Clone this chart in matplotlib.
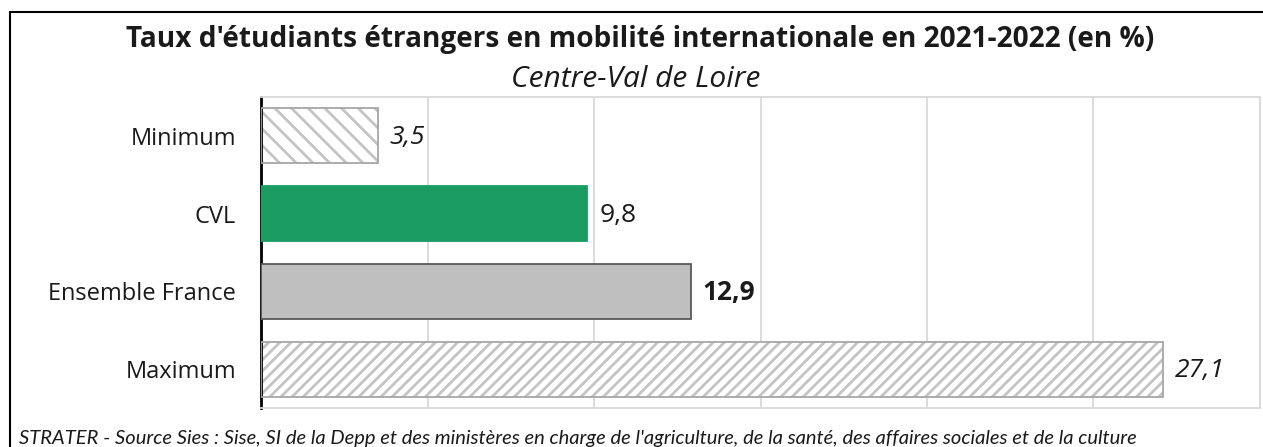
import matplotlib.pyplot as plt
from matplotlib.patches import Rectangle

# data
categories = ['Minimum', 'CVL', 'Ensemble France', 'Maximum']
values = [3.5, 9.8, 12.9, 27.1]
value_labels = ['3,5', '9,8', '12,9', '27,1']

title = "Taux d'étudiants étrangers en mobilité internationale en 2021-2022 (en %)"
subtitle = 'Centre-Val de Loire'
source = ("STRATER - Source Sies : Sise, SI de la Depp et des ministères en charge de "
          "l'agriculture, de la santé, des affaires sociales et de la culture")

plt.rcParams['font.family'] = ['Open Sans', 'DejaVu Sans']
plt.rcParams['hatch.linewidth'] = 2.0

fig = plt.figure(figsize=(12.63, 4.47), dpi=100)
ax = fig.add_axes([0.2067, 0.0872, 0.7909, 0.6958])

# bar styles
faces = ['white', '#1a9b62', '#bfbfbf', 'white']
edges = ['#a6a6a6', '#1a9b62', '#595959', '#a6a6a6']
hatches = ['\\\\', None, None, '///']
label_style = ['italic', 'normal', 'normal', 'italic']
label_weight = ['normal', 'normal', 'bold', 'normal']

ypos = range(len(categories))
for i in ypos:
    if hatches[i]:
        ax.barh(i, values[i], height=0.71, color='white', edgecolor='#c4c4c4',
                hatch=hatches[i], linewidth=0, zorder=2)
        ax.barh(i, values[i], height=0.71, fill=False, edgecolor=edges[i],
                linewidth=1.3, zorder=3)
    else:
        ax.barh(i, values[i], height=0.71, color=faces[i], edgecolor=edges[i],
                linewidth=1.3, zorder=3)
    ax.annotate(value_labels[i], (values[i], i), xytext=(8.5, -1),
                textcoords='offset points', va='center', ha='left',
                fontsize=19, style=label_style[i], weight=label_weight[i],
                color='#1a1a1a')

ax.set_xlim(0, 30)
ax.set_ylim(3.5, -0.5)
ax.set_xticks([0, 5, 10, 15, 20, 25, 30])
ax.set_xticklabels([])
ax.set_yticks(list(ypos))
ax.set_yticklabels(categories, fontsize=17, color='#1a1a1a')
ax.tick_params(length=0, pad=18)
ax.grid(axis='x', color='#d9d9d9', linewidth=1.3, zorder=0)
ax.set_axisbelow(True)
for s in ['top', 'right', 'bottom']:
    ax.spines[s].set_color('#d9d9d9')
    ax.spines[s].set_linewidth(1.3)
ax.spines['left'].set_color('black')
ax.spines['left'].set_linewidth(2)

# texts
fig.text(0.507, 0.912, title, ha='center', va='center', fontsize=20.2,
         weight='bold', color='#1a1a1a')
fig.text(0.503, 0.822, subtitle, ha='center', va='center', fontsize=21.5,
         style='italic', color='#1a1a1a')
fig.text(0.015, 0.02, source, ha='left', va='center', fontsize=14.5,
         style='italic', family=['Lato', 'DejaVu Sans'], color='#1a1a1a')

# outer frame
fig.patches.append(Rectangle((10 / 1263, -0.1), 1.2, 1.1 - 12 / 447,
                             transform=fig.transFigure, fill=False,
                             edgecolor='black', linewidth=1.5))

fig.savefig('out.png', dpi=100)
